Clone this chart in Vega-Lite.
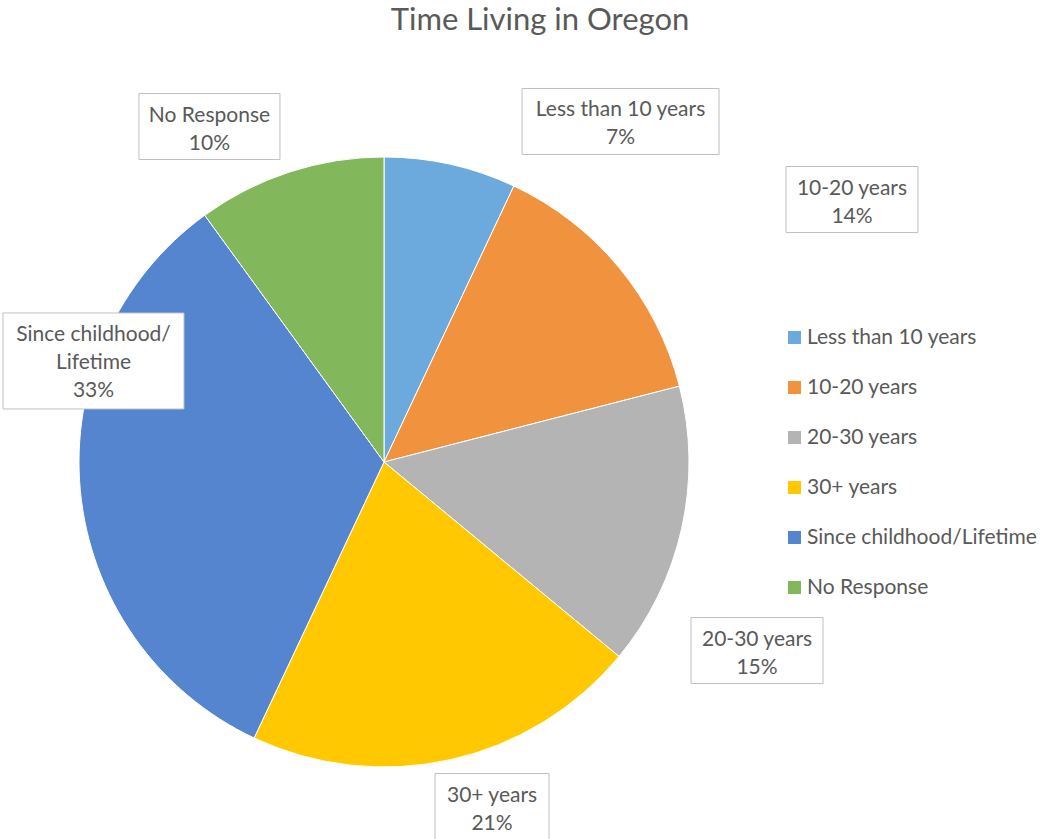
{
  "$schema": "https://vega.github.io/schema/vega-lite/v6.json",
  "width": 610,
  "height": 610,
  "autosize": {"type": "none"},
  "padding": {"left": 79, "top": 157, "right": 362, "bottom": 72},
  "background": "white",
  "config": {"view": {"stroke": null}, "font": "Lato"},
  "title": {
    "text": "Time Living in Oregon",
    "font": "Lato",
    "fontSize": 31,
    "fontWeight": "normal",
    "color": "#595959",
    "anchor": "middle",
    "frame": "group",
    "dx": 156,
    "offset": 50.5
  },
  "data": {
    "values": [
      {"category": "Less than 10 years", "value": 7},
      {"category": "10-20 years", "value": 14},
      {"category": "20-30 years", "value": 15},
      {"category": "30+ years", "value": 21},
      {"category": "Since childhood/Lifetime", "value": 33},
      {"category": "No Response", "value": 10}
    ]
  },
  "transform": [
    {"window": [{"op": "row_number", "as": "idx"}]},
    {"stack": "value", "groupby": [], "sort": [{"field": "idx", "order": "ascending"}], "as": ["v0", "v1"]},
    {"calculate": "PI * (datum.v0 + datum.v1) / 100", "as": "ang"},
    {"calculate": "replace(datum.category, '/', '/\\n') + '\\n' + datum.value + '%'", "as": "txt"}
  ],
  "layer": [
    {
      "mark": {"type": "arc", "stroke": "white", "strokeWidth": 1},
      "encoding": {
        "theta": {"field": "v0", "type": "quantitative", "stack": null, "scale": {"domain": [0, 100]}},
        "theta2": {"field": "v1"},
        "color": {
          "field": "category",
          "type": "nominal",
          "scale": {
            "domain": ["Less than 10 years", "10-20 years", "20-30 years", "30+ years", "Since childhood/Lifetime", "No Response"],
            "range": ["#6CA9DC", "#F1923F", "#B4B4B4", "#FFC800", "#5585CE", "#82B85B"]
          },
          "legend": {
            "orient": "none",
            "legendX": 705,
            "legendY": 170,
            "title": null,
            "padding": 0,
            "symbolType": "square",
            "symbolSize": 169,
            "symbolStrokeWidth": 0,
            "labelFont": "Lato",
            "labelFontSize": 21,
            "labelColor": "#595959",
            "labelOffset": 2,
            "labelLimit": 0,
            "rowPadding": 28
          }
        }
      }
    },
    {
      "transform": [
        {"calculate": "360 * sin(datum.ang) + [158, 190.6, 21.7, 29.5, 67.9, -63.3][datum.idx - 1]", "as": "cx"},
        {"calculate": "-360 * cos(datum.ang) + [10.8, -33, 110, -6.8, -134.9, 6.9][datum.idx - 1]", "as": "cy"},
        {"calculate": "[197, 132, 132, 114, 181, 141][datum.idx - 1] / 2", "as": "hw"},
        {"calculate": "[66, 66, 66, 66, 96, 66][datum.idx - 1] / 2", "as": "hh"},
        {"calculate": "datum.cx - datum.hw", "as": "x0"},
        {"calculate": "datum.cx + datum.hw", "as": "x1"},
        {"calculate": "datum.cy - datum.hh", "as": "y0"},
        {"calculate": "datum.cy + datum.hh", "as": "y1"},
        {"calculate": "datum.y0 + 22", "as": "ty"}
      ],
      "layer": [
        {
          "mark": {"type": "rect", "fill": "white", "stroke": "#BFBFBF", "strokeWidth": 1},
          "encoding": {
            "x": {"field": "x0", "type": "quantitative", "axis": null, "scale": {"domain": [-305, 305], "nice": false, "zero": false}},
            "x2": {"field": "x1"},
            "y": {"field": "y0", "type": "quantitative", "axis": null, "scale": {"domain": [-305, 305], "nice": false, "zero": false, "reverse": true}},
            "y2": {"field": "y1"}
          }
        },
        {
          "mark": {"type": "text", "font": "Lato", "fontSize": 21, "color": "#595959", "align": "center", "baseline": "middle", "lineBreak": "\n", "lineHeight": 28},
          "encoding": {
            "x": {"field": "cx", "type": "quantitative"},
            "y": {"field": "ty", "type": "quantitative"},
            "text": {"field": "txt"}
          }
        }
      ]
    }
  ]
}
